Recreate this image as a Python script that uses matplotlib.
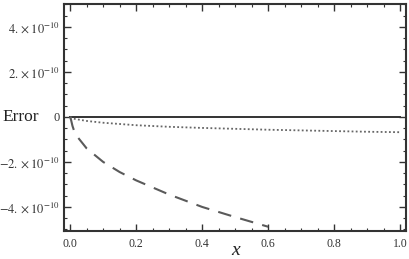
import matplotlib
matplotlib.use("Agg")
import matplotlib.pyplot as plt
from matplotlib.ticker import MultipleLocator

plt.rcParams['font.family'] = ['Liberation Serif', 'DejaVu Serif']
plt.rcParams['mathtext.fontset'] = 'stix'

# Solid curve
x_solid = [0.0, 1.0]
y_solid = [0.0, 0.0]

# Dotted curve
x_dot = [0.0, 0.01, 0.05, 0.1, 0.2, 0.3, 0.4, 0.5, 0.6, 0.7, 0.8, 0.9, 1.0]
y_dot = [0.0, -0.08e-10, -0.18e-10, -0.26e-10, -0.37e-10, -0.44e-10, -0.49e-10,
         -0.53e-10, -0.57e-10, -0.6e-10, -0.63e-10, -0.66e-10, -0.68e-10]

# Dashed curve
x_dash = [0.0, 0.003, 0.007, 0.012, 0.02, 0.05, 0.1, 0.15, 0.2, 0.3, 0.4, 0.5, 0.6]
y_dash = [0.0, -0.15e-10, -0.4e-10, -0.62e-10, -0.85e-10, -1.4e-10, -2.0e-10,
          -2.45e-10, -2.82e-10, -3.45e-10, -4.0e-10, -4.45e-10, -4.88e-10]

xticks = [0.0, 0.2, 0.4, 0.6, 0.8, 1.0]
xticklabels = ["0.0", "0.2", "0.4", "0.6", "0.8", "1.0"]
yticks = [-4e-10, -2e-10, 0.0, 2e-10, 4e-10]
yticklabels = [r"$-4.\times 10^{-10}$", r"$-2.\times 10^{-10}$", "0",
               r"$2.\times 10^{-10}$", r"$4.\times 10^{-10}$"]

fig = plt.figure(figsize=(4.09, 2.59), dpi=100)
ax = fig.add_axes([0.157, 0.108, 0.836, 0.877])

ax.plot(x_solid, y_solid, color='#333333', lw=1.4)
ax.plot(x_dot, y_dot, color='#666666', lw=1.3, linestyle=(0, (1, 1.3)))
ax.plot(x_dash, y_dash, color='#5a5a5a', lw=1.5, linestyle=(0, (6.5, 4.5)))

ax.set_xlim(-0.018, 1.018)
ax.set_ylim(-5.07e-10, 5.02e-10)
ax.set_xticks(xticks)
ax.set_xticklabels(xticklabels)
ax.set_yticks(yticks)
ax.set_yticklabels(yticklabels)
ax.xaxis.set_minor_locator(MultipleLocator(0.05))
ax.yaxis.set_minor_locator(MultipleLocator(0.5e-10))
ax.tick_params(which='both', direction='in', top=True, right=True, color='#333333')
ax.tick_params(which='major', length=5, width=1.0, colors='#333333', pad=3)
ax.tick_params(axis='y', which='major', labelsize=9)
ax.tick_params(axis='x', which='major', labelsize=8.5, pad=5)
ax.tick_params(which='minor', length=2.5, width=0.8)
for s in ax.spines.values():
    s.set_color('#333333')
    s.set_linewidth(1.5)

ax.set_xlabel("x", fontsize=14, style='italic', labelpad=-6, color='#222222')
ax.text(-0.075, 0.0, "Error", transform=ax.get_yaxis_transform(), fontsize=12.5,
        ha='right', va='center', color='#222222')

fig.savefig("out.png", dpi=100)
